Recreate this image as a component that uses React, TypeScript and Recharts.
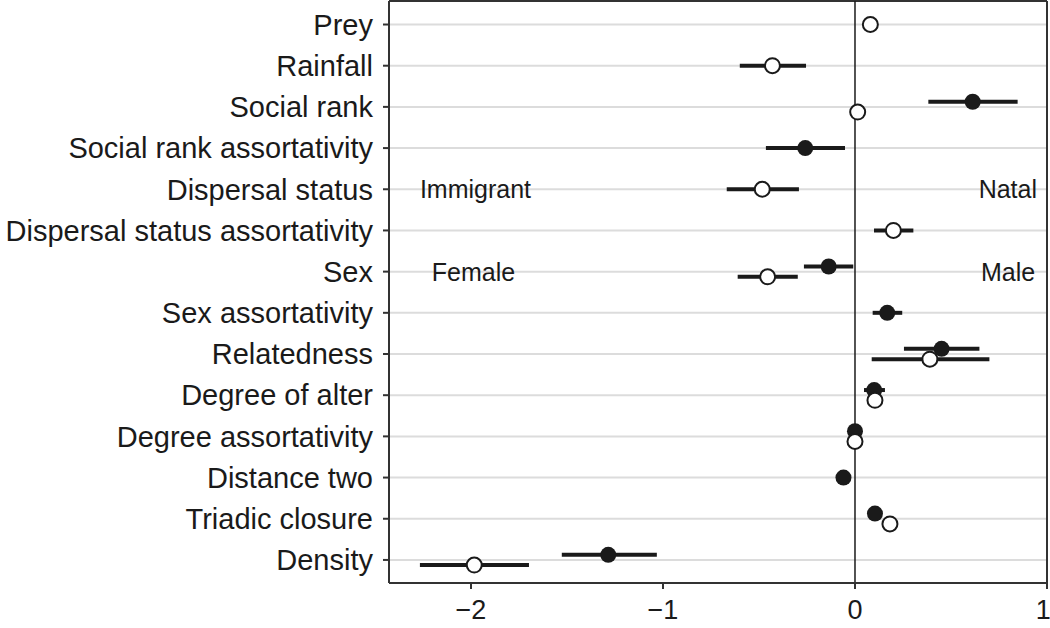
import {
    ScatterChart,
    Scatter,
    XAxis,
    YAxis,
    CartesianGrid,
    ReferenceLine,
    ReferenceDot,
    ErrorBar,
} from 'recharts';

const categories = [
    'Prey',
    'Rainfall',
    'Social rank',
    'Social rank assortativity',
    'Dispersal status',
    'Dispersal status assortativity',
    'Sex',
    'Sex assortativity',
    'Relatedness',
    'Degree of alter',
    'Degree assortativity',
    'Distance two',
    'Triadic closure',
    'Density',
];

// filled circles
const filledMean = [null, null, 0.613, -0.259, null, null, -0.137, 0.168, 0.451, 0.1, 0.0, -0.06, 0.104, -1.285];
const filledLow = [null, null, 0.382, -0.464, null, null, -0.266, 0.092, 0.255, 0.047, 0.0, -0.06, 0.104, -1.527];
const filledHigh = [null, null, 0.847, -0.052, null, null, -0.009, 0.246, 0.648, 0.156, 0.0, -0.06, 0.104, -1.032];

// open circles
const openMean = [0.08, -0.43, 0.014, null, -0.483, 0.2, -0.455, null, 0.39, 0.104, 0.0, null, 0.182, -1.983];
const openLow = [0.08, -0.6, 0.014, null, -0.668, 0.099, -0.611, null, 0.087, 0.104, 0.0, null, 0.182, -2.266];
const openHigh = [0.08, -0.255, 0.014, null, -0.292, 0.304, -0.298, null, 0.7, 0.104, 0.0, null, 0.182, -1.698];

const xTicks = [-2, -1, 0, 1];

const INK = '#1a1a1a';
const FONT = '"Liberation Sans", Arial, Helvetica, sans-serif';
const SHIFT = 0.125;

type Pt = { x: number; y: number; err: [number, number] };

const buildPoints = (
    mean: (number | null)[],
    low: (number | null)[],
    high: (number | null)[],
    other: (number | null)[],
    dir: number,
): Pt[] => {
    const pts: Pt[] = [];
    mean.forEach((m, i) => {
        if (m === null) return;
        const shift = other[i] === null ? 0 : dir * SHIFT;
        pts.push({
            x: m,
            y: i + shift,
            err: [m - (low[i] as number), (high[i] as number) - m],
        });
    });
    return pts;
};

const filledData = buildPoints(filledMean, filledLow, filledHigh, openMean, -1);
const openData = buildPoints(openMean, openLow, openHigh, filledMean, 1);

const fmtX = (v: number) => (v < 0 ? `\u2212${Math.abs(v)}` : String(v));

const FilledDot = (props: any) => (
    <circle cx={props.cx} cy={props.cy} r={8} fill={INK} />
);

const OpenDot = (props: any) => (
    <circle cx={props.cx} cy={props.cy} r={7.5} fill="#fff" stroke={INK} strokeWidth={2} />
);

const note = (text: string, anchor: 'start' | 'end') => (props: any) => (
    <text
        x={props.cx}
        y={props.cy}
        dy="0.355em"
        textAnchor={anchor}
        fontSize={25}
        fontFamily={FONT}
        fill={INK}
    >
        {text}
    </text>
);

export default function App() {
    return (
        <div style={{ position: 'absolute', left: 0, top: 0, background: '#fff' }}>
            <ScatterChart width={1050} height={628} margin={{ top: 1, right: 3, bottom: 1, left: 0 }}>
                <CartesianGrid horizontal vertical={false} stroke="#dcdcdc" strokeWidth={2} />
                <XAxis
                    type="number"
                    dataKey="x"
                    domain={[-2.427, 1]}
                    ticks={xTicks}
                    allowDataOverflow
                    height={44}
                    tickSize={6}
                    tickMargin={11}
                    tickFormatter={fmtX}
                    axisLine={{ stroke: '#333', strokeWidth: 2 }}
                    tickLine={{ stroke: '#333', strokeWidth: 2 }}
                    tick={{ fontSize: 27, fontFamily: FONT, fill: INK }}
                />
                <YAxis
                    type="number"
                    dataKey="y"
                    domain={[-0.571, 13.56]}
                    reversed
                    ticks={categories.map((_, i) => i)}
                    interval={0}
                    allowDataOverflow
                    width={389}
                    tickSize={6}
                    tickMargin={10}
                    tickFormatter={(v: number) => categories[v] ?? ''}
                    axisLine={{ stroke: '#333', strokeWidth: 2 }}
                    tickLine={{ stroke: '#333', strokeWidth: 2 }}
                    tick={{ fontSize: 29, fontFamily: FONT, fill: INK }}
                />
                <ReferenceLine y={-0.571} stroke="#333" strokeWidth={2} />
                <ReferenceLine x={1} stroke="#333" strokeWidth={2} />
                <ReferenceLine x={0} stroke={INK} strokeWidth={1.5} />
                <ReferenceDot x={-2.266} y={4} r={0} shape={note('Immigrant', 'start')} />
                <ReferenceDot x={0.948} y={4} r={0} shape={note('Natal', 'end')} />
                <ReferenceDot x={-2.204} y={6} r={0} shape={note('Female', 'start')} />
                <ReferenceDot x={0.938} y={6} r={0} shape={note('Male', 'end')} />
                <Scatter data={filledData} shape={FilledDot} isAnimationActive={false}>
                    <ErrorBar dataKey="err" direction="x" width={0} strokeWidth={4} stroke={INK} />
                </Scatter>
                <Scatter data={openData} shape={OpenDot} isAnimationActive={false}>
                    <ErrorBar dataKey="err" direction="x" width={0} strokeWidth={4} stroke={INK} />
                </Scatter>
            </ScatterChart>
        </div>
    );
}
